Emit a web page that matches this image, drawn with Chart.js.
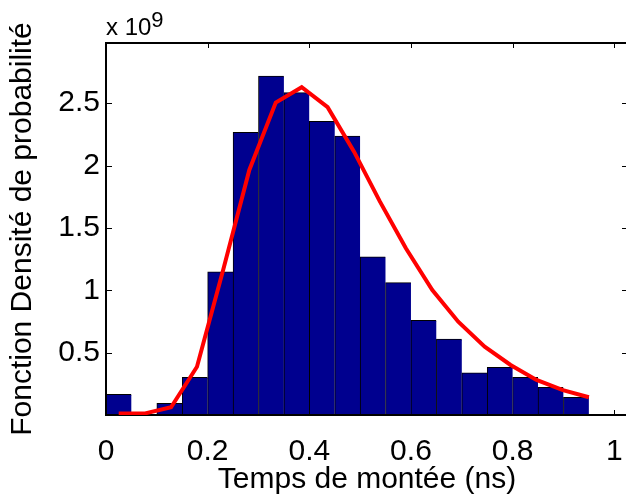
<!DOCTYPE html>
<html>
<head>
<meta charset="utf-8">
<script src="https://cdn.jsdelivr.net/npm/chart.js@4.4.1/dist/chart.umd.min.js"></script>
<style>
  html, body { margin: 0; padding: 0; background: #fff; overflow: hidden; }
  #wrap { width: 640px; height: 497px; }
</style>
</head>
<body>
<div id="wrap"><canvas id="grafik" width="640" height="497"></canvas></div>
<script>
/* =========================================================
   DONNEES (densite en unites de 1e9)
========================================================= */
const centresClasses = [0.025, 0.075, 0.125, 0.175, 0.225, 0.275, 0.325, 0.375, 0.425, 0.475,
                        0.525, 0.575, 0.625, 0.675, 0.725, 0.775, 0.825, 0.875, 0.925];
const densiteHist = [0.166, 0, 0.094, 0.302, 1.149, 2.267, 2.718, 2.585, 2.355, 2.237,
                     1.269, 1.061, 0.759, 0.609, 0.339, 0.382, 0.302, 0.222, 0.142];

const tempsFit = [0.025, 0.077, 0.128, 0.179, 0.231, 0.282, 0.334, 0.385, 0.436, 0.488,
                  0.539, 0.590, 0.642, 0.693, 0.745, 0.796, 0.847, 0.899, 0.950];
const densiteFit = [0.013, 0.013, 0.062, 0.387, 1.17, 1.965, 2.505, 2.628, 2.468, 2.112,
                    1.711, 1.337, 1.002, 0.748, 0.548, 0.401, 0.281, 0.200, 0.142];

const ticksX = [0, 0.2, 0.4, 0.6, 0.8, 1];
const ticksY = [0.5, 1, 1.5, 2, 2.5];

const POLICE = "'Liberation Sans', Arial, Helvetica, sans-serif";

/* =========================================================
   PLUGIN : cadre + graduations vers l'interieur (style MATLAB)
========================================================= */
const cadreMatlab = {
  id: "cadreMatlab",
  beforeDatasetsDraw(chart) {
    const { ctx, chartArea: a, scales: { x, y } } = chart;
    ctx.save();
    ctx.strokeStyle = "#000";
    ctx.lineWidth = 1;
    ctx.beginPath();
    x.ticks.forEach(t => {
      const px = Math.round(x.getPixelForValue(t.value)) + 0.5;
      ctx.moveTo(px, a.top); ctx.lineTo(px, a.top + 5);
      ctx.moveTo(px, a.bottom); ctx.lineTo(px, a.bottom - 5);
    });
    y.ticks.forEach(t => {
      const py = Math.round(y.getPixelForValue(t.value)) + 0.5;
      ctx.moveTo(a.left, py); ctx.lineTo(a.left + 6, py);
      ctx.moveTo(a.right, py); ctx.lineTo(a.right - 6, py);
    });
    ctx.stroke();
    ctx.restore();
  },
  afterDatasetDraw(chart, args) {
    if (args.index !== 0) return;
    const { ctx, chartArea: a } = chart;
    ctx.save();
    ctx.strokeStyle = "#000";
    ctx.lineWidth = 2;
    ctx.strokeRect(a.left, a.top, a.right - a.left, a.bottom - a.top);
    ctx.restore();
  },
  afterDraw(chart) {
    const { ctx, chartArea: a } = chart;
    ctx.save();
    ctx.fillStyle = "#000";
    ctx.textBaseline = "alphabetic";
    ctx.font = "24px " + POLICE;
    ctx.fillText("x 10", a.left, 35);
    const w = ctx.measureText("x 10").width;
    ctx.font = "22px " + POLICE;
    ctx.fillText("9", a.left + w, 27);
    ctx.restore();
  }
};

/* =========================================================
   GRAPHIQUE
========================================================= */
new Chart(document.getElementById("grafik"), {
  type: "bar",
  data: {
    datasets: [
      {
        type: "bar",
        data: centresClasses.map((c, i) => ({ x: c, y: densiteHist[i] })),
        backgroundColor: "#00008f",
        borderColor: "#000",
        borderWidth: { top: 1, left: 1, right: 0, bottom: 0 },
        borderSkipped: false,
        barPercentage: 1,
        categoryPercentage: 1,
        order: 1
      },
      {
        type: "line",
        data: tempsFit.map((t, i) => ({ x: t, y: densiteFit[i] })),
        borderColor: "#ff0000",
        borderWidth: 4,
        pointRadius: 0,
        tension: 0,
        fill: false,
        order: 0
      }
    ]
  },
  options: {
    responsive: false,
    animation: false,
    layout: { padding: { top: 43, right: 12, left: 0, bottom: 0 } },
    plugins: { legend: { display: false }, tooltip: { enabled: false } },
    scales: {
      x: {
        type: "linear",
        min: 0,
        max: 1.027,
        offset: false,
        afterBuildTicks: s => { s.ticks = ticksX.map(v => ({ value: v })); },
        afterFit: s => { s.height = 82; s.paddingLeft = 0; s.paddingRight = 0; },
        grid: { display: false, drawTicks: false, offset: false },
        border: { display: false },
        ticks: {
          padding: 22,
          color: "#000",
          maxRotation: 0,
          autoSkip: false,
          font: { family: POLICE, size: 30, lineHeight: 1 },
          callback: v => String(v)
        },
        title: {
          display: true,
          text: "Temps de montée (ns)",
          color: "#000",
          font: { family: POLICE, size: 30, lineHeight: 1 },
          padding: { top: 0, bottom: 2 }
        }
      },
      y: {
        min: 0,
        max: 2.983,
        afterBuildTicks: s => { s.ticks = ticksY.map(v => ({ value: v })); },
        afterFit: s => { s.width = 106; s.paddingTop = 0; s.paddingBottom = 0; },
        grid: { display: false, drawTicks: false },
        border: { display: false },
        ticks: {
          padding: 6,
          color: "#000",
          autoSkip: false,
          font: { family: POLICE, size: 30, lineHeight: 1 },
          callback: v => String(v)
        },
        title: {
          display: true,
          text: "Fonction Densité de probabilité",
          color: "#000",
          font: { family: POLICE, size: 30, lineHeight: 1 },
          padding: { top: 8, bottom: 0 }
        }
      }
    }
  },
  plugins: [cadreMatlab]
});
</script>
</body>
</html>
